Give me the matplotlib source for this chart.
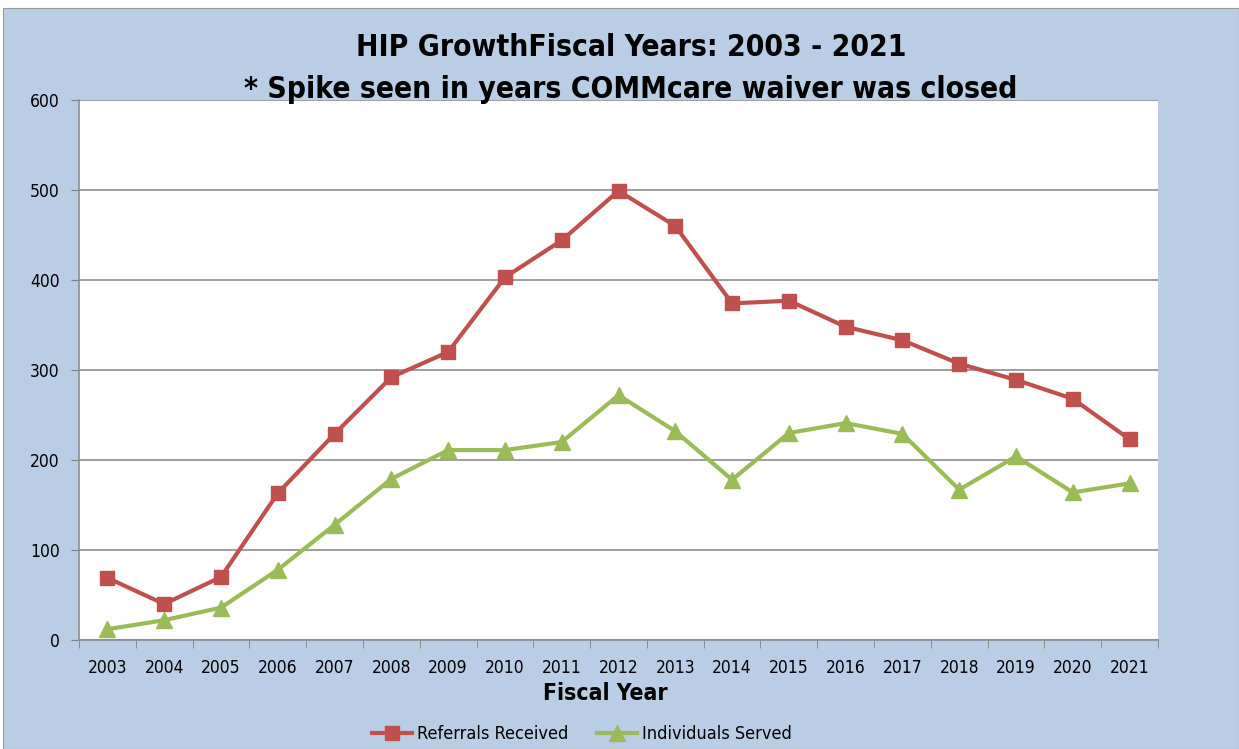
import matplotlib
matplotlib.use("Agg")
import matplotlib.pyplot as plt
from matplotlib.patches import Rectangle

years = ["2003", "2004", "2005", "2006", "2007", "2008", "2009", "2010", "2011", "2012",
         "2013", "2014", "2015", "2016", "2017", "2018", "2019", "2020", "2021"]
referrals = [69, 40, 70, 163, 229, 292, 320, 403, 444, 499, 460, 374, 377, 348, 333, 307, 289, 268, 223]
served = [12, 22, 36, 78, 128, 179, 211, 211, 220, 272, 232, 178, 230, 241, 229, 167, 204, 164, 174]
yticks = [0, 100, 200, 300, 400, 500, 600]

plt.rcParams['font.family'] = ['Liberation Sans Narrow', 'DejaVu Sans']
plt.rcParams['font.stretch'] = 'condensed'

W, H = 1239, 749
fig = plt.figure(figsize=(W / 100, H / 100), dpi=100)
fig.patch.set_facecolor("white")
bg = Rectangle((3 / W, 0), 1 - 3 / W, 1 - 8 / H, transform=fig.transFigure,
               facecolor="#B9CDE5", edgecolor="#9A9A9A", linewidth=0.8, zorder=-10)
fig.patches.append(bg)

ax = fig.add_axes([79 / W, 1 - 640 / H, (1158 - 79) / W, (640 - 100) / H])
ax.set_facecolor("white")

x = list(range(len(years)))
ax.plot(x, referrals, color="#C0504D", linewidth=3, marker="s", markersize=10,
        label="Referrals Received", zorder=3)
ax.plot(x, served, color="#9BBB59", linewidth=3, marker="^", markersize=11,
        label="Individuals Served", zorder=3)

ax.set_xlim(-0.5, len(years) - 0.5)
ax.set_ylim(0, 600)
ax.set_yticks(yticks)
ax.set_yticklabels([str(v) for v in yticks], fontsize=12.5)
ax.set_xticks(x)
ax.set_xticklabels(years, fontsize=12.5)
ax.set_xticks([i - 0.5 for i in range(len(years) + 1)], minor=True)
ax.tick_params(axis="x", which="major", length=0, pad=14)
ax.tick_params(axis="x", which="minor", length=6, color="#808080")
ax.tick_params(axis="y", length=6, color="#808080", pad=8)
ax.grid(axis="y", color="#8C8C8C", linewidth=1.2)
ax.set_axisbelow(True)
for s in ["top", "right"]:
    ax.spines[s].set_visible(False)
for s in ["left", "bottom"]:
    ax.spines[s].set_color("#8C8C8C")
    ax.spines[s].set_linewidth(1.2)

fig.text(605 / W, 1 - 693 / H, "Fiscal Year", ha="center", va="center",
         fontsize=16.5, fontweight="bold")

fig.text(631 / W, 1 - 48 / H, "HIP GrowthFiscal Years: 2003 - 2021", ha="center", va="center",
         fontsize=21.5, fontweight="bold")
fig.text(631 / W, 1 - 90 / H, "* Spike seen in years COMMcare waiver was closed", ha="center",
         va="center", fontsize=21.5, fontweight="bold")

fig.legend(loc="center", bbox_to_anchor=(582 / W, 1 - 734 / H), ncol=2, frameon=False,
           fontsize=13, handlelength=2.2, handletextpad=0.3, columnspacing=1.6)

fig.savefig("out.png", dpi=100)
